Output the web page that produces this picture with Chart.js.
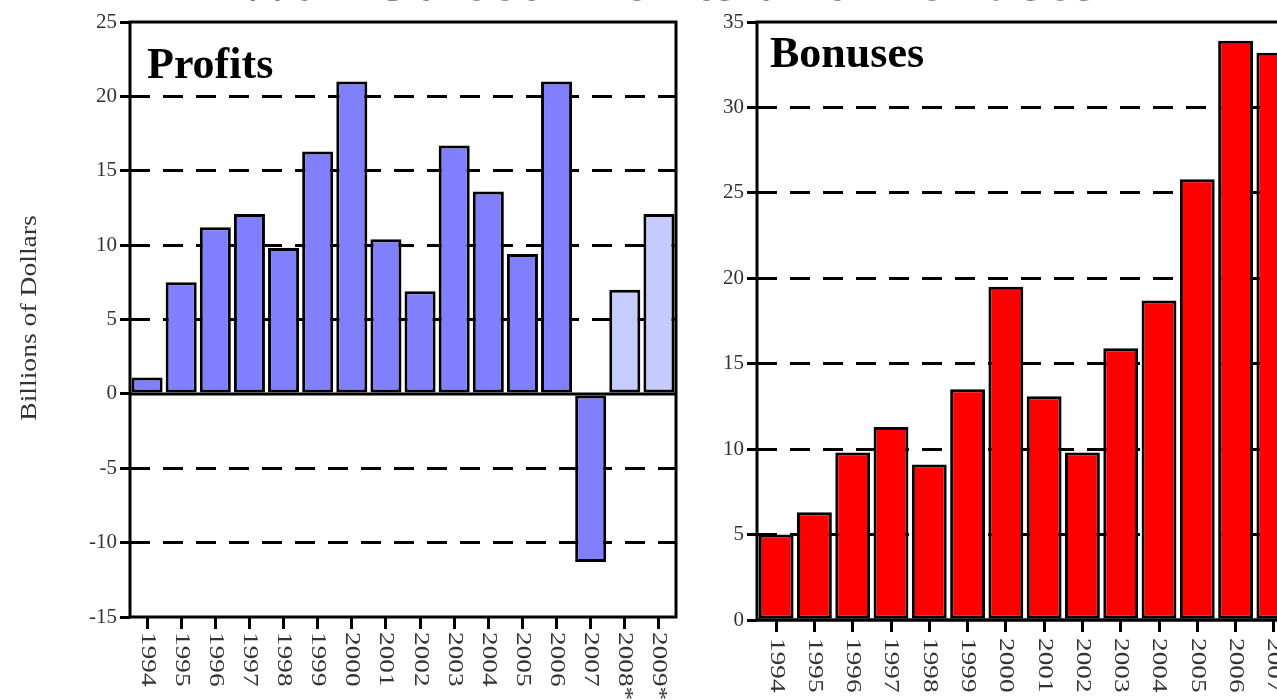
<!DOCTYPE html>
<html>
<head>
<meta charset="utf-8">
<title>Wall Street Profits and Bonuses</title>
<script src="https://cdn.jsdelivr.net/npm/chart.js@4.4.1/dist/chart.umd.min.js"></script>
<style>
  html, body { margin: 0; padding: 0; background: #fff; width: 1277px; height: 700px; overflow: hidden; position: relative; }
  #title {
    position: absolute; left: 0; top: -53px; width: 1330px; text-align: center;
    font: bold 64px 'Liberation Serif', serif; line-height: 1; color: #000; white-space: nowrap;
  }
  #profits { position: absolute; left: 0; top: 0; }
  #bonuses { position: absolute; left: 700px; top: 0; }
</style>
</head>
<body>
<div id="title">Wall Street Profits and Bonuses</div>
<canvas id="profits" width="700" height="700"></canvas>
<canvas id="bonuses" width="620" height="700"></canvas>
<script>
// data (billions of dollars)
const profitYears = ['1994', '1995', '1996', '1997', '1998', '1999', '2000', '2001',
  '2002', '2003', '2004', '2005', '2006', '2007', '2008*', '2009*']
const profits = [1.1, 7.5, 11.2, 12.1, 9.8, 16.3, 21.0, 10.4, 6.9, 16.7, 13.6, 9.4, 21.0, -11.3, 7.0, 12.1]

const bonusYears = ['1994', '1995', '1996', '1997', '1998', '1999', '2000', '2001',
  '2002', '2003', '2004', '2005', '2006', '2007']
const bonuses = [5.0, 6.3, 9.8, 11.3, 9.1, 13.5, 19.5, 13.1, 9.8, 15.9, 18.7, 25.8, 33.9, 33.2]

const profitAxis = { min: -15, max: 25, step: 5 }
const bonusAxis = { min: 0, max: 35, step: 5 }

const SERIF = "'Liberation Serif', 'Times New Roman', serif"
const BLUE = '#8080ff'
const LIGHT_BLUE = '#c6ccff'
const RED = '#ff0000'

// box round the plot area plus a solid zero line
const boxPlugin = {
  id: 'box',
  afterDatasetsDraw(chart) {
    const { ctx, chartArea: a } = chart
    const y0 = chart.scales.y.getPixelForValue(0)
    ctx.save()
    ctx.strokeStyle = '#000'
    ctx.lineWidth = 3
    ctx.strokeRect(a.left, a.top, a.right - a.left, a.bottom - a.top)
    ctx.beginPath()
    ctx.moveTo(a.left, y0)
    ctx.lineTo(a.right, y0)
    ctx.stroke()
    ctx.restore()
  }
}

// year labels turned to read top to bottom, plus the panel name and axis title
const textPlugin = {
  id: 'texts',
  afterDraw(chart, args, opts) {
    const { ctx, chartArea: a } = chart
    const xs = chart.scales.x
    ctx.save()
    ctx.fillStyle = '#333'
    ctx.font = `21px ${SERIF}`
    ctx.textAlign = 'left'
    ctx.textBaseline = 'middle'
    chart.data.labels.forEach((lab, i) => {
      ctx.save()
      ctx.translate(xs.getPixelForTick(i), a.bottom + opts.labelGap)
      ctx.rotate(Math.PI / 2)
      ctx.scale(1.3, 1)
      ctx.fillText(lab, 0, 0)
      ctx.restore()
    })

    ctx.fillStyle = '#000'
    ctx.font = `bold 44px ${SERIF}`
    ctx.textBaseline = 'alphabetic'
    ctx.fillText(opts.name, a.left + opts.nameX, a.top + opts.nameY)

    if (opts.axisTitle) {
      ctx.save()
      ctx.fillStyle = '#333'
      ctx.font = `23px ${SERIF}`
      ctx.textAlign = 'center'
      ctx.textBaseline = 'middle'
      ctx.translate(30, 318)
      ctx.rotate(-Math.PI / 2)
      ctx.scale(1.2, 1)
      ctx.fillText(opts.axisTitle, 0, 0)
      ctx.restore()
    }
    ctx.restore()
  }
}

const makeChart = (id, labels, values, colors, axis, layout) => {
  const edge = (v) => v === 0 || v === axis.min || v === axis.max
  return new Chart(document.getElementById(id), {
    type: 'bar',
    data: {
      labels,
      datasets: [{
        data: values,
        backgroundColor: colors,
        borderColor: '#000',
        borderWidth: 3,
        borderSkipped: false,
        barPercentage: 0.91,
        categoryPercentage: 1
      }]
    },
    options: {
      responsive: false,
      animation: false,
      layout: { padding: layout.padding },
      plugins: {
        legend: { display: false },
        tooltip: { enabled: false },
        texts: layout.texts
      },
      scales: {
        x: {
          ticks: { display: false },
          grid: {
            offset: false,
            drawOnChartArea: false,
            drawTicks: true,
            tickLength: 12,
            tickWidth: 3,
            tickColor: '#000'
          },
          border: { display: false },
          afterFit: (scale) => { scale.height = layout.xHeight }
        },
        y: {
          min: axis.min,
          max: axis.max,
          ticks: {
            stepSize: axis.step,
            padding: 3,
            color: '#333',
            font: { family: SERIF, size: 21 }
          },
          grid: {
            color: (c) => edge(c.tick.value) ? 'rgba(0,0,0,0)' : '#000',
            lineWidth: 3,
            tickLength: 10,
            tickWidth: 3,
            tickColor: '#000'
          },
          border: { display: false, dash: [20, 13] },
          afterFit: (scale) => { scale.width = layout.yWidth }
        }
      }
    },
    plugins: [boxPlugin, textPlugin]
  })
}

makeChart('profits', profitYears, profits,
  profitYears.map((y) => y.endsWith('*') ? LIGHT_BLUE : BLUE),
  profitAxis,
  {
    padding: { top: 22, right: 24, left: 0, bottom: 0 },
    xHeight: 83,
    yWidth: 130,
    texts: { labelGap: 15, name: 'Profits', nameX: 17, nameY: 56, axisTitle: 'Billions of Dollars' }
  })

makeChart('bonuses', bonusYears, bonuses,
  bonusYears.map(() => RED),
  bonusAxis,
  {
    padding: { top: 22, right: 27, left: 0, bottom: 0 },
    xHeight: 80,
    yWidth: 57,
    texts: { labelGap: 18, name: 'Bonuses', nameX: 13, nameY: 45 }
  })
</script>
</body>
</html>
